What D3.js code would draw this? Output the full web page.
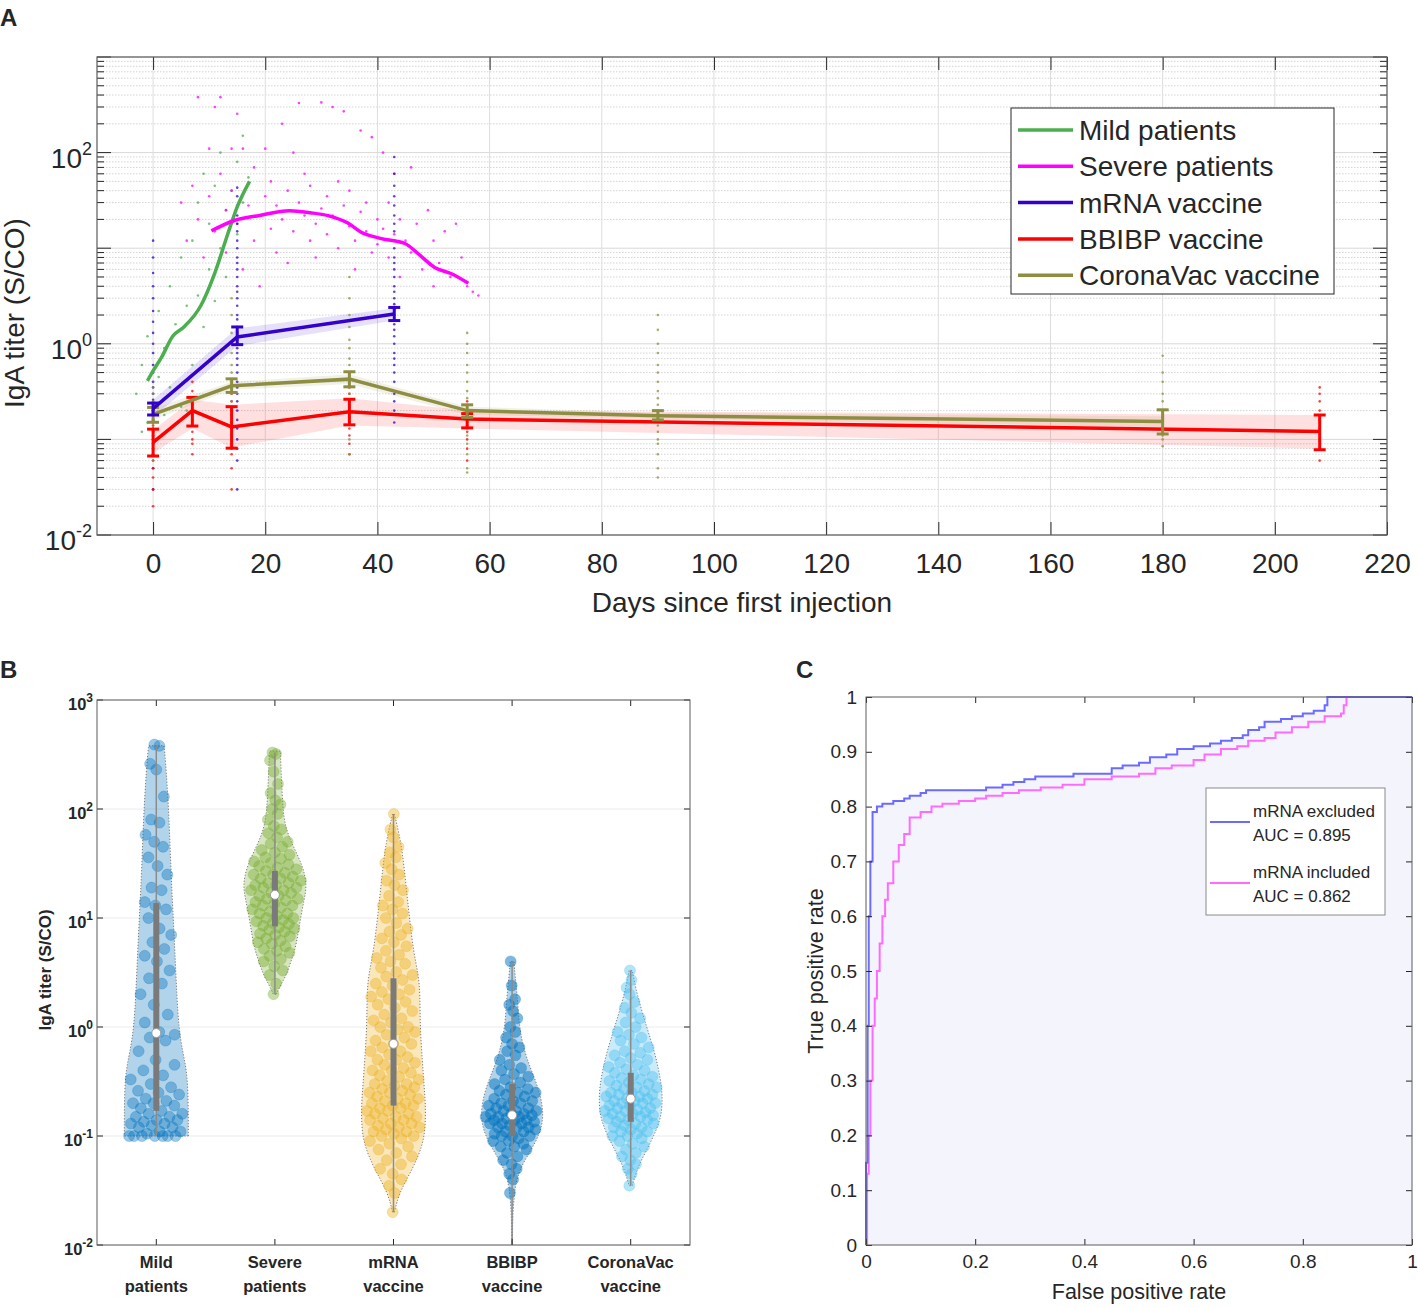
<!DOCTYPE html>
<html>
<head>
<meta charset="utf-8">
<style>
  body { margin: 0; background: #fff; }
  svg text { font-family: "Liberation Sans", Arial, Helvetica, sans-serif; fill: #262626; }
</style>
</head>
<body>
<svg id="fig" width="1418" height="1308"></svg>
<script src="https://cdnjs.cloudflare.com/ajax/libs/d3/7.8.5/d3.min.js"></script>
<script>
// ---------------- Panel A data ----------------
const xTicksA = [0, 20, 40, 60, 80, 100, 120, 140, 160, 180, 200, 220]
const yTicksA = [1e-2, 1, 1e2]
const legendA = ['Mild patients', 'Severe patients', 'mRNA vaccine', 'BBIBP vaccine', 'CoronaVac vaccine']

const mildDays = [-1, 0, 1.5, 3.5, 5.5, 8.5, 11, 13.3, 15, 17.2]
const mildTiter = [0.41, 0.52, 0.72, 1.2, 1.5, 2.5, 5.5, 14, 27, 50]

const severeDays = [10.4, 14.5, 19, 24.3, 28, 31.2, 34.8, 37.1, 40.7, 44.9, 47.3, 50.2, 53.2, 56.2]
const severeTiter = [15.2, 19.5, 22, 24.6, 23.5, 21.9, 18.2, 14.7, 12.6, 11.2, 8.7, 6.3, 5.4, 4.3]

const mrnaDays = [0, 15, 43]
const mrnaMean = [0.21, 1.18, 2.05]
const mrnaLo = [0.18, 0.98, 1.75]
const mrnaHi = [0.24, 1.5, 2.4]
const mrnaBandLo = [0.17, 0.95, 1.75]
const mrnaBandHi = [0.26, 1.45, 2.35]

const bbibpDays = [0, 7, 14, 35, 56, 208]
const bbibpMean = [0.093, 0.2, 0.135, 0.195, 0.163, 0.121]
const bbibpLo = [0.067, 0.138, 0.081, 0.142, 0.132, 0.078]
const bbibpHi = [0.128, 0.275, 0.22, 0.263, 0.186, 0.18]
const bbibpBandLo = [0.072, 0.13, 0.082, 0.14, 0.13, 0.08]
const bbibpBandHi = [0.125, 0.26, 0.23, 0.27, 0.2, 0.18]

const coronaDays = [0, 14, 35, 56, 90, 180]
const coronaMean = [0.183, 0.364, 0.427, 0.2, 0.177, 0.154]
const coronaLo = [0.151, 0.31, 0.355, 0.17, 0.16, 0.114]
const coronaHi = [0.216, 0.43, 0.51, 0.23, 0.2, 0.204]
const coronaBandLo = [0.16, 0.33, 0.38, 0.18, 0.165, 0.135]
const coronaBandHi = [0.21, 0.4, 0.48, 0.22, 0.19, 0.175]

// individual samples [day, titer]
const mildDots = [[-3,0.3],[-2,0.6],[-1,0.15],[-1,1.2],[0,0.25],[0,0.07],[1,0.45],[1,2.2],[2,0.9],[3,0.35],[3,4],[4,1.6],
  [5,0.22],[5,8],[6,2.5],[7,0.6],[7,12],[8,3.2],[8,30],[9,1.5],[9,60],[10,6],[10,18],[11,45],[11,2.8],[12,10],[12,100],
  [13,25],[13,5],[14,40],[15,14],[15,80],[16,30],[16,150],[17,55],[-2,0.12],[2,0.18],[6,0.2]]
const severeDots = [[5,30],[6,12],[7,45],[8,380],[8,20],[9,8],[10,110],[10,35],[11,300],[11,15],[12,380],[12,60],[13,25],[13,9],
  [14,110],[14,40],[15,255],[15,18],[16,110],[16,6],[17,28],[18,70],[18,12],[19,22],[19,4],[20,35],[20,110],[21,16],[21,50],
  [22,9],[22,28],[23,200],[23,20],[24,40],[24,7],[25,100],[25,15],[26,330],[26,30],[27,22],[27,60],[28,12],[28,45],[29,18],
  [29,8],[30,335],[30,26],[31,35],[31,14],[32,300],[32,22],[33,50],[33,10],[34,270],[34,28],[35,17],[35,40],[36,12],[36,6],
  [37,170],[37,24],[38,15],[38,30],[39,145],[39,9],[40,20],[40,11],[41,100],[41,16],[42,30],[42,8],[43,14],[43,60],[44,20],
  [44,5],[45,12],[46,70],[46,9],[47,18],[48,6],[49,25],[50,12],[50,4],[51,7],[52,15],[53,5],[54,18],[55,8],[56,4],[57,3.5],[58,3.2]]
const mrnaDotCols = [
  [0, [0.03,0.05,0.07,0.09,0.1,0.12,0.13,0.15,0.16,0.18,0.2,0.22,0.24,0.26,0.3,0.35,0.4,0.5,0.6,0.8,1,1.3,1.7,2.2,3,4,5.5,8,12]],
  [15, [0.03,0.06,0.08,0.1,0.13,0.16,0.2,0.25,0.3,0.35,0.4,0.5,0.6,0.7,0.8,0.9,1,1.1,1.3,1.5,1.8,2,2.5,3,3.5,4,5,6,7,8,10,12,15,18,22,28,35,43]],
  [43, [0.15,0.2,0.25,0.3,0.4,0.5,0.6,0.7,0.8,1,1.2,1.4,1.6,1.8,2,2.3,2.6,3,3.5,4,5,6,7,8,10,12,15,18,22,28,35,45,60,90]]
]
const bbibpDotCols = [
  [0, [0.02,0.03,0.04,0.05,0.06,0.07,0.08,0.09,0.1,0.11,0.12,0.14,0.16,0.2]],
  [7, [0.07,0.09,0.1,0.12,0.14,0.16,0.18,0.2,0.23,0.27,0.32,0.4]],
  [14, [0.03,0.05,0.07,0.08,0.09,0.1,0.11,0.13,0.15,0.18,0.2,0.25,0.3]],
  [35, [0.07,0.09,0.11,0.13,0.15,0.17,0.19,0.22,0.25,0.3,0.35,0.5]],
  [56, [0.06,0.08,0.1,0.12,0.14,0.16,0.18,0.2,0.25]],
  [208, [0.06,0.08,0.1,0.13,0.16,0.2,0.25,0.3,0.35]]
]
const coronaDotCols = [
  [0, [0.06,0.08,0.1,0.12,0.14,0.16,0.18,0.2,0.22,0.25,0.3,0.35]],
  [14, [0.1,0.15,0.2,0.25,0.3,0.35,0.4,0.5,0.6,0.8,1,1.3,2,3]],
  [35, [0.07,0.1,0.15,0.2,0.25,0.3,0.35,0.4,0.5,0.6,0.7,0.9,1.1,1.5,2,3,5]],
  [56, [0.045,0.05,0.07,0.09,0.11,0.13,0.15,0.17,0.2,0.23,0.27,0.32,0.4,0.5,0.6,0.8,1,1.3]],
  [90, [0.04,0.05,0.07,0.09,0.1,0.12,0.14,0.16,0.18,0.2,0.23,0.27,0.32,0.4,0.5,0.6,0.8,1,1.4,2]],
  [180, [0.085,0.1,0.11,0.13,0.15,0.17,0.2,0.25,0.3,0.4,0.5,0.75]]
]

// ---------------- Panel B data ----------------
const catLine1 = ['Mild', 'Severe', 'mRNA', 'BBIBP', 'CoronaVac']
const catLine2 = ['patients', 'patients', 'vaccine', 'vaccine', 'vaccine']
const yTicksB = [1e-2, 1e-1, 1, 1e1, 1e2, 1e3]

const mildLevels = [0.1, 0.15, 0.25, 0.4, 0.6, 1, 2, 5, 10, 30, 100, 300, 380]
const mildDens = [1.0, 1.0, 0.99, 0.95, 0.82, 0.7, 0.64, 0.58, 0.53, 0.45, 0.39, 0.28, 0.24]
const severeLevels = [2, 2.5, 3, 4, 5, 7, 10, 15, 20, 30, 50, 70, 100, 200, 340]
const severeDens = [0.05, 0.2, 0.36, 0.5, 0.62, 0.72, 0.8, 0.92, 1.0, 0.88, 0.5, 0.32, 0.25, 0.2, 0.17]
const mrnaLevels = [0.02, 0.03, 0.05, 0.08, 0.12, 0.2, 0.3, 0.5, 1, 2, 3, 5, 10, 20, 40, 60, 90]
const mrnaDens = [0.03, 0.17, 0.6, 0.9, 1.0, 1.0, 0.95, 0.9, 0.83, 0.83, 0.78, 0.62, 0.5, 0.39, 0.28, 0.17, 0.03]
const bbibpLevels = [0.0101, 0.02, 0.03, 0.035, 0.05, 0.07, 0.1, 0.15, 0.25, 0.4, 0.6, 1, 2, 3, 4]
const bbibpDens = [0.01, 0.02, 0.08, 0.1, 0.24, 0.54, 0.84, 1.0, 0.88, 0.6, 0.38, 0.22, 0.16, 0.09, 0.06]
const coronaLevels = [0.035, 0.05, 0.07, 0.1, 0.15, 0.25, 0.4, 0.6, 1, 2, 3.3]
const coronaDens = [0.05, 0.2, 0.45, 0.72, 0.97, 1.0, 0.88, 0.74, 0.5, 0.19, 0.05]

const mildValues = [0.1,0.1,0.1,0.1,0.1,0.1,0.1,0.105,0.11,0.11,0.12,0.12,0.125,0.13,0.13,0.135,0.14,0.14,0.15,0.15,0.16,0.16,
  0.17,0.18,0.19,0.2,0.2,0.21,0.22,0.24,0.25,0.26,0.28,0.3,0.33,0.36,0.4,0.45,0.5,0.6,0.75,0.8,0.85,0.9,1.1,1.3,1.6,2,2.5,2.8,
  3.3,4,4.5,5.2,6,7,8,10,12,13,14,18,19,25,30,36,45,50,58,75,80,130,230,260,380,390]
const severeValues = [2,2.5,3,3.3,3.6,4,4.2,4.5,4.8,5,5.2,5.5,5.8,6,6.2,6.5,6.8,7,7.2,7.5,7.8,8,8.2,8.5,8.8,9,9.3,9.6,10,10,
  10.5,11,11,11.5,12,12.5,13,13,13.5,14,14.5,15,15,16,16,17,17,18,18,19,19,20,20,21,21,22,23,23,24,25,25,26,27,28,29,30,31,32,
  33,35,36,38,40,42,45,48,50,55,60,65,70,80,90,100,110,120,140,170,220,280,320,330]
const mrnaValues = [0.02,0.03,0.035,0.04,0.045,0.05,0.055,0.06,0.065,0.07,0.075,0.08,0.085,0.09,0.095,0.1,0.1,0.105,0.11,0.11,
  0.115,0.12,0.12,0.125,0.13,0.13,0.14,0.14,0.145,0.15,0.15,0.16,0.16,0.17,0.17,0.18,0.18,0.19,0.19,0.2,0.2,0.21,0.22,0.22,0.23,
  0.24,0.25,0.25,0.26,0.27,0.28,0.29,0.3,0.3,0.32,0.33,0.35,0.36,0.38,0.4,0.4,0.42,0.45,0.47,0.5,0.5,0.53,0.56,0.6,0.6,0.65,0.7,
  0.7,0.75,0.8,0.85,0.9,0.95,1,1,1.1,1.15,1.2,1.3,1.4,1.5,1.6,1.7,1.8,1.9,2,2.1,2.2,2.4,2.5,2.7,2.9,3,3.2,3.5,3.8,4,4.3,4.6,5,
  5.5,6,6.5,7,7.5,8,9,10,11,12,13,14,16,18,20,22,25,28,32,36,40,45,55,65,90]
const bbibpValues = [0.03,0.04,0.045,0.05,0.055,0.06,0.065,0.07,0.075,0.08,0.08,0.085,0.09,0.09,0.095,0.1,0.1,0.1,0.105,0.11,
  0.11,0.115,0.12,0.12,0.12,0.125,0.13,0.13,0.13,0.135,0.14,0.14,0.14,0.145,0.15,0.15,0.15,0.155,0.16,0.16,0.16,0.17,0.17,0.17,
  0.18,0.18,0.19,0.19,0.2,0.2,0.21,0.21,0.22,0.23,0.24,0.25,0.25,0.26,0.27,0.28,0.3,0.31,0.33,0.35,0.37,0.4,0.42,0.45,0.5,0.55,
  0.6,0.65,0.7,0.8,0.9,1,1.2,1.4,1.6,1.8,2.4,4]
const coronaValues = [0.035,0.045,0.05,0.055,0.06,0.065,0.07,0.075,0.08,0.085,0.09,0.095,0.1,0.1,0.105,0.11,0.11,0.115,0.12,
  0.12,0.125,0.13,0.13,0.135,0.14,0.14,0.145,0.15,0.15,0.155,0.16,0.16,0.165,0.17,0.17,0.175,0.18,0.18,0.19,0.19,0.2,0.2,0.2,
  0.21,0.21,0.22,0.22,0.23,0.23,0.24,0.24,0.25,0.25,0.26,0.27,0.28,0.28,0.29,0.3,0.31,0.32,0.33,0.34,0.35,0.36,0.38,0.4,0.41,
  0.43,0.45,0.47,0.5,0.52,0.55,0.58,0.6,0.65,0.7,0.75,0.8,0.85,0.9,1,1.1,1.2,1.35,1.5,1.7,2,2.3,2.7,3.3]

const medians = [0.88, 16.3, 0.7, 0.155, 0.22]
const q1 = [0.17, 8.4, 0.19, 0.1, 0.135]
const q3 = [13.7, 27, 2.8, 0.3, 0.38]
const whiskLo = [0.1, 2, 0.02, 0.0101, 0.035]
const whiskHi = [380, 330, 90, 4, 3.3]

// ---------------- Panel C data ----------------
const xTicksC = [0, 0.2, 0.4, 0.6, 0.8, 1]
const yTicksC = [0, 0.1, 0.2, 0.3, 0.4, 0.5, 0.6, 0.7, 0.8, 0.9, 1]
const rocExFpr = [0,0,0.003,0.005,0.008,0.012,0.02,0.03,0.05,0.07,0.08,0.1,0.11,0.2,0.22,0.25,0.27,0.29,0.31,0.38,0.42,0.45,
  0.47,0.5,0.52,0.55,0.57,0.6,0.63,0.65,0.67,0.69,0.7,0.72,0.73,0.76,0.78,0.8,0.82,0.84,0.845,1]
const rocExTpr = [0,0.15,0.4,0.6,0.7,0.79,0.8,0.805,0.81,0.815,0.82,0.825,0.83,0.83,0.835,0.84,0.845,0.85,0.855,0.86,0.86,
  0.87,0.875,0.88,0.89,0.895,0.905,0.91,0.915,0.92,0.925,0.93,0.94,0.945,0.955,0.96,0.965,0.97,0.975,0.985,1,1]
const rocInFpr = [0,0.002,0.005,0.008,0.012,0.016,0.02,0.025,0.03,0.035,0.04,0.05,0.06,0.07,0.08,0.1,0.12,0.14,0.17,0.2,0.22,
  0.25,0.28,0.32,0.36,0.4,0.45,0.5,0.53,0.56,0.6,0.62,0.65,0.68,0.7,0.73,0.75,0.78,0.81,0.84,0.87,0.875,0.88,1]
const rocInTpr = [0,0.13,0.2,0.3,0.4,0.45,0.5,0.55,0.6,0.63,0.66,0.7,0.73,0.75,0.78,0.79,0.8,0.805,0.81,0.815,0.82,0.825,
  0.83,0.835,0.84,0.85,0.855,0.86,0.87,0.875,0.885,0.895,0.905,0.91,0.92,0.925,0.935,0.945,0.955,0.965,0.97,0.985,1,1]
const legendC = [['mRNA excluded', 'AUC = 0.895'], ['mRNA included', 'AUC = 0.862']]

// ---------------- styles ----------------
const colorsA = ['#4cae4f', '#ff00ff', '#3300cc', '#ff0000', '#8e8e43']
const violinColors = ['#0072BD', '#77AC30', '#EDB120', '#0072BD', '#4DBEEE']
const rocColors = ['#6b6bff', '#ff6bff']
const boxColor = '#5c5c5c'

const svg = d3.select('#fig')
const zip = (a, b) => a.map((d, i) => [d, b[i]])

// superscript label "10^e"
function pow10Label(sel, v, expSize, expDy) {
  const e = Math.round(Math.log10(v))
  sel.append('tspan').text('10')
  sel.append('tspan').attr('dy', -expDy).attr('font-size', expSize).text(e)
}

// ======================= Panel A =======================
const A = { left: 97, right: 1387, top: 57, bottom: 535 }
const xA = d3.scaleLinear().domain([-10, 220]).range([A.left, A.right])
const yA = d3.scaleLog().domain([1e-2, 1e3]).range([A.bottom, A.top])
const gA = svg.append('g')

const logTicks = yA.ticks()
const isDecade = v => Math.abs(Math.log10(v) - Math.round(Math.log10(v))) < 1e-6

// grid
gA.selectAll('.hgrid').data(logTicks).join('line')
  .attr('x1', A.left).attr('x2', A.right)
  .attr('y1', d => yA(d)).attr('y2', d => yA(d))
  .attr('stroke', d => isDecade(d) ? '#d8d8d8' : '#d4d4d4')
  .attr('stroke-dasharray', d => isDecade(d) ? null : '1.5,1.5')
  .attr('stroke-width', 1)
gA.selectAll('.vgrid').data(xTicksA).join('line')
  .attr('x1', d => xA(d)).attr('x2', d => xA(d))
  .attr('y1', A.top).attr('y2', A.bottom)
  .attr('stroke', '#dedede').attr('stroke-width', 1)

// bands
const bandA = d3.area().x(d => xA(d[0])).y0(d => yA(d[1])).y1(d => yA(d[2]))
const bands = [
  [mrnaDays.map((d, i) => [d, mrnaBandLo[i], mrnaBandHi[i]]), 'rgba(51,0,204,0.12)'],
  [bbibpDays.map((d, i) => [d, bbibpBandLo[i], bbibpBandHi[i]]), 'rgba(255,0,0,0.12)'],
  [coronaDays.map((d, i) => [d, coronaBandLo[i], coronaBandHi[i]]), 'rgba(150,140,60,0.12)']
]
bands.forEach(([rows, fill]) => gA.append('path').attr('d', bandA(rows)).attr('fill', fill))

// sample dots
const flatCols = cols => cols.flatMap(([day, vals]) => vals.map(v => [day, v]))
const dotSets = [
  [mildDots, colorsA[0]], [severeDots, colorsA[1]], [flatCols(mrnaDotCols), colorsA[2]],
  [flatCols(bbibpDotCols), colorsA[3]], [flatCols(coronaDotCols), colorsA[4]]
]
dotSets.forEach(([pts, c]) => {
  gA.append('g').selectAll('circle').data(pts).join('circle')
    .attr('cx', d => xA(d[0])).attr('cy', d => yA(d[1])).attr('r', 1.3)
    .attr('fill', c).attr('opacity', 0.75)
})

// smooth patient curves
const smooth = d3.line().x(d => xA(d[0])).y(d => yA(d[1])).curve(d3.curveMonotoneX)
gA.append('path').attr('d', smooth(zip(mildDays, mildTiter)))
  .attr('fill', 'none').attr('stroke', colorsA[0]).attr('stroke-width', 3.5)
gA.append('path').attr('d', smooth(zip(severeDays, severeTiter)))
  .attr('fill', 'none').attr('stroke', colorsA[1]).attr('stroke-width', 3.5)

// vaccine lines with error bars
const straight = d3.line().x(d => xA(d[0])).y(d => yA(d[1]))
const vaccines = [
  [mrnaDays, mrnaMean, mrnaLo, mrnaHi, colorsA[2]],
  [bbibpDays, bbibpMean, bbibpLo, bbibpHi, colorsA[3]],
  [coronaDays, coronaMean, coronaLo, coronaHi, colorsA[4]]
]
// draw order like the reference: red below olive, blue on top
;[vaccines[1], vaccines[2], vaccines[0]].forEach(([days, mean, lo, hi, c]) => {
  gA.append('path').attr('d', straight(zip(days, mean)))
    .attr('fill', 'none').attr('stroke', c).attr('stroke-width', 3.5)
  const eb = gA.append('g').attr('stroke', c).attr('stroke-width', 3)
  days.forEach((d, i) => {
    const x = xA(d)
    eb.append('line').attr('x1', x).attr('x2', x).attr('y1', yA(lo[i])).attr('y2', yA(hi[i]))
    eb.append('line').attr('x1', x - 6).attr('x2', x + 6).attr('y1', yA(lo[i])).attr('y2', yA(lo[i]))
    eb.append('line').attr('x1', x - 6).attr('x2', x + 6).attr('y1', yA(hi[i])).attr('y2', yA(hi[i]))
  })
})

// axes
gA.append('g').attr('transform', `translate(0,${A.bottom})`).style('color', '#262626')
  .call(d3.axisBottom(xA).tickValues(xTicksA).tickSize(-13).tickPadding(18))
  .call(g => g.select('.domain').remove())
  .call(g => g.selectAll('text').attr('font-size', 28))
gA.append('g').attr('transform', `translate(0,${A.top})`).style('color', '#262626')
  .call(d3.axisTop(xA).tickValues(xTicksA).tickSize(-13).tickFormat(''))
  .call(g => g.select('.domain').remove())
;[[A.left, 1], [A.right, -1]].forEach(([x0, dir]) => {
  gA.append('g').selectAll('line').data(logTicks).join('line')
    .attr('x1', x0).attr('x2', d => x0 + dir * (isDecade(d) ? 14 : 7))
    .attr('y1', d => yA(d)).attr('y2', d => yA(d))
    .attr('stroke', '#262626').attr('stroke-width', 1)
})
gA.selectAll('.ylab').data(yTicksA).join('text')
  .attr('x', A.left - 5).attr('y', d => yA(d) + 15)
  .attr('text-anchor', 'end').attr('font-size', 28)
  .each(function (d) { pow10Label(d3.select(this), d, 18, 13) })
gA.append('rect').attr('x', A.left).attr('y', A.top)
  .attr('width', A.right - A.left).attr('height', A.bottom - A.top)
  .attr('fill', 'none').attr('stroke', boxColor).attr('stroke-width', 1.2)

gA.append('text').attr('x', (A.left + A.right) / 2).attr('y', 612)
  .attr('text-anchor', 'middle').attr('font-size', 28).text('Days since first injection')
gA.append('text').attr('transform', `translate(24,${(A.top + A.bottom) / 2 + 17}) rotate(-90)`)
  .attr('text-anchor', 'middle').attr('font-size', 28).text('IgA titer (S/CO)')

// legend
const legA = gA.append('g').attr('transform', 'translate(1011,108)')
legA.append('rect').attr('width', 323).attr('height', 186)
  .attr('fill', '#fff').attr('stroke', '#262626').attr('stroke-width', 1)
legendA.forEach((name, i) => {
  const y = 22 + i * 36.3
  legA.append('line').attr('x1', 7).attr('x2', 62).attr('y1', y).attr('y2', y)
    .attr('stroke', colorsA[i]).attr('stroke-width', 3.5)
  legA.append('text').attr('x', 68).attr('y', y + 10).attr('font-size', 28).text(name)
})

svg.append('text').attr('x', 0).attr('y', 26).attr('font-size', 24).attr('font-weight', 'bold').text('A')

// ======================= Panel B =======================
const B = { left: 97, right: 690, top: 700, bottom: 1245 }
const xB = d3.scaleLinear().domain([0.5, 5.5]).range([B.left, B.right])
const yB = d3.scaleLog().domain([1e-2, 1e3]).range([B.bottom, B.top])
const wB = d3.scaleLinear().domain([0, 1]).range([0, 32])
const gB = svg.append('g')

gB.selectAll('.grid').data(yTicksB).join('line')
  .attr('x1', B.left).attr('x2', B.right).attr('y1', d => yB(d)).attr('y2', d => yB(d))
  .attr('stroke', '#ebebeb').attr('stroke-width', 1)

const violins = [
  [mildLevels, mildDens, mildValues],
  [severeLevels, severeDens, severeValues],
  [mrnaLevels, mrnaDens, mrnaValues],
  [bbibpLevels, bbibpDens, bbibpValues],
  [coronaLevels, coronaDens, coronaValues]
]
const dotAlpha = [0.38, 0.42, 0.42, 0.5, 0.42]
violins.forEach(([levels, dens, vals], k) => {
  const cx = xB(k + 1)
  const c = violinColors[k]
  const densAt = d3.scaleLog().domain(levels).range(dens).clamp(true)
  const area = d3.area().curve(d3.curveBasis)
    .y(d => yB(d[0])).x0(d => cx - wB(d[1])).x1(d => cx + wB(d[1]))
  gB.append('path').attr('d', area(zip(levels, dens)))
    .attr('fill', c).attr('fill-opacity', 0.3)
    .attr('stroke', '#7a7a7a').attr('stroke-width', 1).attr('stroke-dasharray', '1.2,1.8')
  // swarm layout: spread each sample across the local violin width
  gB.append('g').selectAll('circle').data(vals).join('circle')
    .attr('cx', (v, i) => cx + (((i * 0.6180339887) % 1) * 2 - 1) * wB(densAt(v)) * 0.85)
    .attr('cy', v => yB(v)).attr('r', 5.5)
    .attr('fill', c).attr('fill-opacity', dotAlpha[k])
    .attr('stroke', c).attr('stroke-opacity', 0.25)
  // whisker, IQR, median
  gB.append('line').attr('x1', cx).attr('x2', cx).attr('y1', yB(whiskLo[k])).attr('y2', yB(whiskHi[k]))
    .attr('stroke', '#8c8c8c').attr('stroke-width', 1.5)
  gB.append('rect').attr('x', cx - 3).attr('width', 6)
    .attr('y', yB(q3[k])).attr('height', yB(q1[k]) - yB(q3[k]))
    .attr('fill', '#7a7a7a')
  gB.append('circle').attr('cx', cx).attr('cy', yB(medians[k])).attr('r', 4.5)
    .attr('fill', '#fff').attr('stroke', '#9a9a9a').attr('stroke-width', 1)
})

// ticks and box
;[[B.bottom, -1], [B.top, 1]].forEach(([y0, dir]) => {
  gB.append('g').selectAll('line').data(catLine1).join('line')
    .attr('x1', (d, i) => xB(i + 1)).attr('x2', (d, i) => xB(i + 1))
    .attr('y1', y0).attr('y2', y0 + dir * 6).attr('stroke', '#262626')
})
;[[B.left, 1], [B.right, -1]].forEach(([x0, dir]) => {
  gB.append('g').selectAll('line').data(yTicksB).join('line')
    .attr('x1', x0).attr('x2', x0 + dir * 6).attr('y1', d => yB(d)).attr('y2', d => yB(d))
    .attr('stroke', '#262626')
})
gB.append('rect').attr('x', B.left).attr('y', B.top)
  .attr('width', B.right - B.left).attr('height', B.bottom - B.top)
  .attr('fill', 'none').attr('stroke', boxColor).attr('stroke-width', 1)
gB.selectAll('.ylab').data(yTicksB).join('text')
  .attr('x', B.left - 4).attr('y', d => yB(d) + 10)
  .attr('text-anchor', 'end').attr('font-size', 16.5).attr('font-weight', 'bold')
  .each(function (d) { pow10Label(d3.select(this), d, 12, 8) })
catLine1.forEach((t, i) => {
  gB.append('text').attr('x', xB(i + 1)).attr('y', 1268).attr('text-anchor', 'middle')
    .attr('font-size', 16.5).attr('font-weight', 'bold').text(t)
  gB.append('text').attr('x', xB(i + 1)).attr('y', 1292).attr('text-anchor', 'middle')
    .attr('font-size', 16.5).attr('font-weight', 'bold').text(catLine2[i])
})
gB.append('text').attr('transform', `translate(51,970) rotate(-90)`)
  .attr('text-anchor', 'middle').attr('font-size', 17).attr('font-weight', 'bold').text('IgA titer (S/CO)')

svg.append('text').attr('x', 0).attr('y', 678).attr('font-size', 24).attr('font-weight', 'bold').text('B')

// ======================= Panel C =======================
const C = { left: 866, right: 1412, top: 697, bottom: 1245 }
const xC = d3.scaleLinear().domain([0, 1]).range([C.left, C.right])
const yC = d3.scaleLinear().domain([0, 1]).range([C.bottom, C.top])
const gC = svg.append('g')

const rocEx = zip(rocExFpr, rocExTpr)
const rocIn = zip(rocInFpr, rocInTpr)
gC.append('path')
  .attr('d', d3.area().x(d => xC(d[0])).y0(C.bottom).y1(d => yC(d[1])).curve(d3.curveStepAfter)(rocEx))
  .attr('fill', '#f4f4fc')

const stepLine = d3.line().x(d => xC(d[0])).y(d => yC(d[1])).curve(d3.curveStepAfter)
gC.append('path').attr('d', stepLine(rocIn)).attr('fill', 'none').attr('stroke', rocColors[1]).attr('stroke-width', 2)
gC.append('path').attr('d', stepLine(rocEx)).attr('fill', 'none').attr('stroke', rocColors[0]).attr('stroke-width', 2)

gC.append('g').attr('transform', `translate(0,${C.bottom})`).style('color', '#262626')
  .call(d3.axisBottom(xC).tickValues(xTicksC).tickSize(-6).tickPadding(10).tickFormat(d3.format('~g')))
  .call(g => g.select('.domain').remove())
  .call(g => g.selectAll('text').attr('font-size', 19))
gC.append('g').attr('transform', `translate(0,${C.top})`).style('color', '#262626')
  .call(d3.axisTop(xC).tickValues(xTicksC).tickSize(-6).tickFormat(''))
  .call(g => g.select('.domain').remove())
gC.append('g').attr('transform', `translate(${C.left},0)`).style('color', '#262626')
  .call(d3.axisLeft(yC).tickValues(yTicksC).tickSize(-6).tickPadding(9).tickFormat(d3.format('~g')))
  .call(g => g.select('.domain').remove())
  .call(g => g.selectAll('text').attr('font-size', 19))
gC.append('g').attr('transform', `translate(${C.right},0)`).style('color', '#262626')
  .call(d3.axisRight(yC).tickValues(yTicksC).tickSize(-6).tickFormat(''))
  .call(g => g.select('.domain').remove())
gC.append('rect').attr('x', C.left).attr('y', C.top)
  .attr('width', C.right - C.left).attr('height', C.bottom - C.top)
  .attr('fill', 'none').attr('stroke', boxColor).attr('stroke-width', 1)

gC.append('text').attr('x', (C.left + C.right) / 2).attr('y', 1299)
  .attr('text-anchor', 'middle').attr('font-size', 21.5).text('False positive rate')
gC.append('text').attr('transform', `translate(823,${(C.top + C.bottom) / 2}) rotate(-90)`)
  .attr('text-anchor', 'middle').attr('font-size', 21.5).text('True positive rate')

const legC = gC.append('g').attr('transform', 'translate(1206,788)')
legC.append('rect').attr('width', 179).attr('height', 127)
  .attr('fill', '#fff').attr('stroke', '#8a8a8a').attr('stroke-width', 1)
legendC.forEach(([l1, l2], i) => {
  const y0 = 29 + i * 61
  legC.append('line').attr('x1', 4).attr('x2', 44).attr('y1', y0 + 5).attr('y2', y0 + 5)
    .attr('stroke', rocColors[i]).attr('stroke-width', 2)
  legC.append('text').attr('x', 47).attr('y', y0).attr('font-size', 17).text(l1)
  legC.append('text').attr('x', 47).attr('y', y0 + 24).attr('font-size', 17).text(l2)
})

svg.append('text').attr('x', 796).attr('y', 678).attr('font-size', 24).attr('font-weight', 'bold').text('C')
</script>
</body>
</html>
